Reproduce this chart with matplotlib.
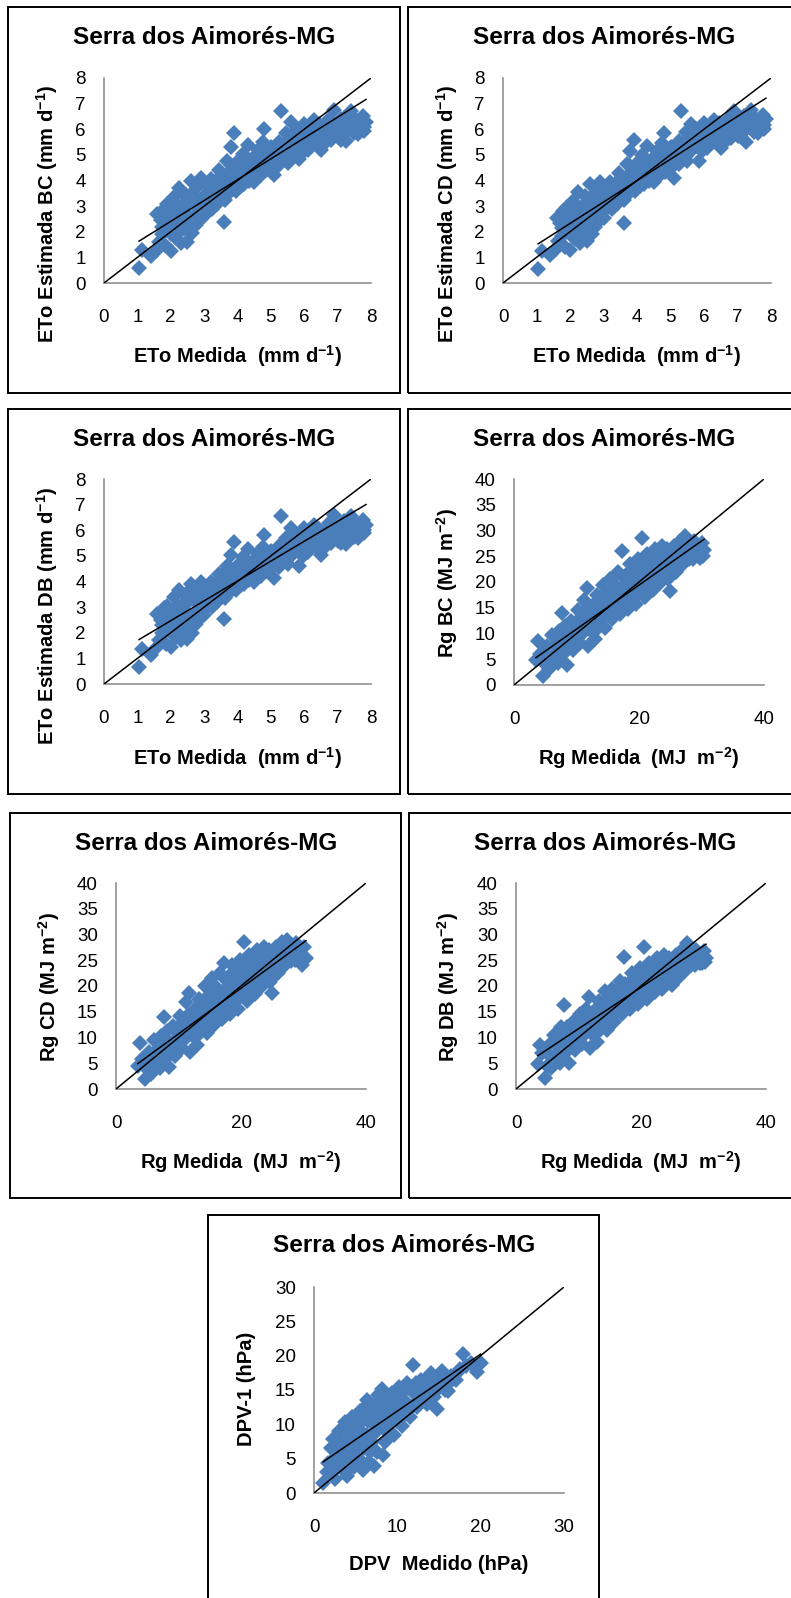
import matplotlib
matplotlib.use('Agg')
import numpy as np
import matplotlib.pyplot as plt
from matplotlib.patches import Rectangle

# --- Data ---
eto_medida = [1.05, 1.15, 1.40, 1.55, 1.60, 1.65, 1.70, 1.75, 1.80, 1.85, 1.90, 1.95, 2.00, 2.05, 2.10,
              2.15, 2.20, 2.25, 2.30, 2.35, 2.40, 2.45, 2.50, 2.55, 2.60, 2.65, 2.70, 2.75, 2.80, 2.85,
              2.90, 2.95, 3.00, 3.05, 3.10, 3.15, 3.20, 3.30, 3.35, 3.40, 3.45, 3.50, 3.55, 3.60, 3.62,
              3.70, 3.75, 3.80, 3.85, 3.90, 3.95, 4.00, 4.05, 4.15, 4.20, 4.25, 4.30, 4.40, 4.45, 4.50,
              4.60, 4.65, 4.75, 4.80, 4.85, 4.90, 5.00, 5.10, 5.15, 5.25, 5.30, 5.35, 5.45, 5.50, 5.60,
              5.65, 5.75, 5.85, 5.90, 6.00, 6.10, 6.20, 6.30, 6.40, 6.50, 6.55, 6.65, 6.75, 6.85, 6.90,
              7.00, 7.10, 7.20, 7.25, 7.35, 7.40, 7.50, 7.55, 7.65, 7.75, 7.85, 7.80,
              1.75, 1.90, 2.00, 2.10, 2.20, 2.30, 2.35, 2.45, 2.50, 2.60, 2.65, 2.75, 2.80, 2.90, 3.00,
              3.05, 3.15, 3.20, 3.25, 3.30, 3.40, 3.45, 3.50, 3.55, 3.65, 3.70, 3.75, 3.80, 3.85, 3.95,
              4.00, 4.05, 4.10, 4.20, 4.25, 4.35, 4.40, 4.50, 4.55, 4.60, 4.70, 4.75, 4.85, 4.90, 5.00,
              5.05, 5.20, 5.25, 5.40, 5.45, 5.55, 5.60, 5.70, 5.80, 5.90, 5.95, 6.05, 6.15, 6.25, 6.35,
              6.45, 6.50, 6.60, 6.70, 6.80, 6.90, 7.00, 7.10, 7.20, 7.30, 7.45, 7.60, 7.70, 7.80]
eto_bc = [0.60, 1.30, 1.05, 1.25, 2.70, 1.60, 2.45, 1.90, 2.90, 1.45, 3.10, 2.20, 1.25, 2.75, 3.35,
          1.75, 2.40, 3.70, 1.55, 3.05, 2.10, 3.45, 1.60, 2.60, 4.00, 1.95, 3.30, 2.25, 3.75, 2.85,
          4.10, 3.20, 2.60, 3.85, 3.00, 3.55, 4.05, 3.35, 3.90, 3.10, 4.40, 3.65, 4.20, 2.40, 3.25,
          4.75, 3.90, 5.30, 4.40, 5.85, 3.60, 4.75, 4.15, 5.05, 3.85, 4.50, 5.40, 4.20, 4.85, 3.95,
          5.20, 4.50, 5.50, 6.00, 4.40, 4.95, 5.30, 4.20, 4.75, 5.50, 6.70, 5.00, 5.85, 4.70, 6.30,
          5.35, 5.95, 4.85, 5.50, 6.20, 5.20, 5.75, 6.35, 5.40, 5.20, 6.00, 5.50, 6.40, 5.80, 6.75,
          6.15, 5.60, 6.45, 5.55, 6.05, 6.70, 5.85, 6.35, 6.00, 6.50, 6.30, 5.95,
          2.20, 2.50, 1.90, 2.60, 3.00, 2.10, 2.70, 2.30, 3.10, 2.20, 3.50, 2.70, 3.10, 2.50, 3.40,
          2.90, 3.20, 3.70, 2.90, 3.10, 3.90, 3.40, 4.00, 3.50, 3.80, 4.20, 3.50, 4.60, 3.90, 4.30,
          4.00, 4.60, 3.80, 4.30, 4.90, 4.00, 4.60, 4.30, 5.00, 4.70, 4.20, 4.80, 5.20, 4.60, 4.50,
          5.00, 5.20, 4.60, 5.30, 4.90, 5.60, 5.10, 5.70, 5.30, 6.00, 5.10, 5.80, 5.40, 6.00, 5.60,
          6.20, 5.60, 5.80, 6.10, 5.60, 6.00, 5.70, 6.40, 5.90, 6.20, 6.30, 5.80, 6.20, 6.10]
eto_cd = [0.55, 1.25, 1.10, 1.30, 2.55, 1.65, 2.35, 1.85, 2.80, 1.40, 2.95, 2.15, 1.30, 2.65, 3.20,
          1.70, 2.35, 3.55, 1.55, 2.95, 2.00, 3.40, 1.65, 2.55, 3.85, 1.90, 3.20, 2.20, 3.65, 2.80,
          3.95, 3.15, 2.55, 3.75, 2.95, 3.50, 3.95, 3.30, 3.85, 3.10, 4.30, 3.60, 4.15, 2.35, 3.25,
          4.65, 3.85, 5.15, 4.35, 5.60, 3.60, 4.70, 4.10, 5.00, 3.85, 4.45, 5.35, 4.20, 4.80, 3.95,
          5.15, 4.50, 5.45, 5.85, 4.35, 4.90, 5.30, 4.10, 4.70, 5.55, 6.70, 5.00, 5.90, 4.75, 6.20,
          5.40, 6.00, 4.75, 5.55, 6.25, 5.25, 5.80, 6.35, 5.45, 5.25, 6.05, 5.55, 6.45, 5.85, 6.70,
          6.20, 5.70, 6.50, 5.50, 6.10, 6.75, 5.90, 6.40, 6.05, 6.55, 6.40, 6.00,
          2.15, 2.40, 1.90, 2.50, 2.90, 2.05, 2.60, 2.25, 3.00, 2.20, 3.40, 2.65, 3.05, 2.45, 3.35,
          2.85, 3.15, 3.60, 2.90, 3.05, 3.85, 3.35, 3.95, 3.50, 3.75, 4.15, 3.50, 4.55, 3.85, 4.25,
          4.00, 4.55, 3.80, 4.30, 4.85, 4.00, 4.60, 4.30, 4.95, 4.70, 4.20, 4.80, 5.20, 4.60, 4.50,
          5.00, 5.25, 4.65, 5.35, 4.95, 5.65, 5.15, 5.75, 5.35, 6.05, 5.15, 5.85, 5.45, 6.05, 5.65,
          6.25, 5.65, 5.85, 6.15, 5.65, 6.05, 5.75, 6.45, 5.95, 6.25, 6.35, 5.85, 6.25, 6.15]
eto_db = [0.65, 1.35, 1.15, 1.40, 2.75, 1.70, 2.50, 2.00, 2.95, 1.55, 3.05, 2.30, 1.45, 2.80, 3.40,
          1.85, 2.45, 3.65, 1.70, 3.10, 2.15, 3.50, 1.75, 2.65, 3.90, 2.00, 3.35, 2.35, 3.70, 2.90,
          4.00, 3.25, 2.70, 3.80, 3.10, 3.55, 4.00, 3.40, 3.90, 3.20, 4.30, 3.65, 4.20, 2.55, 3.35,
          4.60, 3.90, 5.05, 4.40, 5.55, 3.65, 4.65, 4.15, 4.95, 3.90, 4.50, 5.25, 4.25, 4.80, 4.00,
          5.10, 4.50, 5.35, 5.80, 4.40, 4.90, 5.20, 4.15, 4.70, 5.40, 6.55, 4.95, 5.70, 4.70, 6.10,
          5.30, 5.85, 4.60, 5.40, 6.10, 5.15, 5.65, 6.20, 5.30, 5.05, 5.90, 5.40, 6.30, 5.70, 6.60,
          6.05, 5.50, 6.35, 5.45, 5.95, 6.55, 5.75, 6.25, 5.90, 6.40, 6.20, 5.90,
          2.30, 2.60, 2.00, 2.70, 3.05, 2.20, 2.75, 2.40, 3.15, 2.30, 3.50, 2.80, 3.15, 2.60, 3.45,
          3.00, 3.25, 3.70, 3.00, 3.15, 3.90, 3.45, 4.00, 3.55, 3.80, 4.20, 3.55, 4.50, 3.90, 4.30,
          4.00, 4.55, 3.85, 4.30, 4.80, 4.05, 4.55, 4.30, 4.90, 4.65, 4.20, 4.75, 5.10, 4.60, 4.50,
          4.95, 5.10, 4.55, 5.20, 4.85, 5.50, 5.00, 5.60, 5.20, 5.85, 5.00, 5.70, 5.30, 5.90, 5.50,
          6.05, 5.50, 5.70, 6.00, 5.50, 5.90, 5.60, 6.25, 5.80, 6.10, 6.15, 5.70, 6.10, 6.00]

rg_medida = [3.5, 3.8, 4.2, 4.7, 5.0, 5.3, 5.6, 6.0, 6.2, 6.6, 7.0, 7.2, 7.6, 7.9, 8.2, 8.5, 8.8,
             9.1, 9.5, 9.8, 10.2, 10.5, 10.8, 11.2, 11.6, 11.8, 12.0, 12.3, 12.7, 13.0, 13.3, 13.6,
             14.0, 14.3, 14.5, 14.8, 15.1, 15.4, 15.7, 16.0, 16.3, 16.6, 16.9, 17.2, 17.4, 17.7,
             18.0, 18.3, 18.6, 18.9, 19.2, 19.5, 19.8, 20.1, 20.4, 20.7, 21.0, 21.3, 21.6, 21.9,
             22.2, 22.5, 22.8, 23.1, 23.4, 23.7, 24.0, 24.3, 24.6, 25.0, 25.3, 25.6, 25.9, 26.2,
             26.6, 27.0, 27.4, 27.8, 28.2, 28.6, 29.0, 29.4, 29.8, 30.0, 30.4,
             5.5, 6.5, 6.8, 7.5, 8.0, 8.6, 9.3, 9.6, 10.0, 10.3, 10.6, 11.0, 11.4, 11.5, 12.1, 12.4,
             12.8, 13.1, 13.4, 13.8, 14.1, 14.6, 14.9, 15.2, 15.5, 15.9, 16.2, 16.5, 16.8, 17.1,
             17.5, 17.8, 18.2, 18.5, 18.8, 19.1, 19.4, 19.7, 20.0, 20.3, 20.6, 21.0, 21.2, 21.5,
             21.8, 22.1, 22.4, 22.7, 23.0, 23.3, 23.6, 23.9, 24.2, 24.5, 24.8, 25.1, 25.4, 25.8,
             26.0, 26.4, 26.8, 27.2, 27.6, 28.0, 28.4, 28.8, 29.2, 29.6, 30.2]
rg_bc = [4.8, 8.6, 6.0, 1.8, 4.0, 7.5, 3.2, 9.8, 5.5, 7.8, 4.2, 10.5, 14.0, 6.0, 11.5, 3.8, 8.5,
         12.5, 6.8, 10.2, 14.5, 8.2, 12.0, 16.5, 18.9, 7.5, 13.8, 10.5, 15.5, 9.0, 17.5, 12.2,
         15.0, 19.5, 11.0, 16.8, 13.5, 20.5, 12.8, 18.0, 15.0, 22.0, 13.8, 26.0, 19.0, 16.2,
         21.5, 14.8, 23.5, 17.5, 20.0, 15.8, 24.5, 18.5, 28.5, 21.8, 17.0, 25.5, 19.5, 23.0,
         18.5, 26.5, 21.0, 24.5, 19.8, 27.0, 22.5, 25.5, 20.5, 18.3, 24.0, 27.0, 22.0, 25.5,
         28.0, 23.5, 28.9, 25.5, 27.5, 24.5, 27.0, 25.0, 24.7, 27.5, 26.2,
         5.5, 6.0, 9.0, 8.0, 10.0, 7.0, 9.5, 11.5, 8.5, 11.0, 13.0, 10.0, 12.5, 14.5, 11.5, 15.0,
         12.5, 14.0, 11.0, 16.0, 13.0, 14.8, 18.0, 16.0, 14.0, 17.0, 19.5, 16.5, 18.5, 15.0,
         21.0, 18.0, 19.5, 16.5, 21.5, 18.5, 22.5, 17.5, 20.5, 23.0, 19.0, 22.0, 20.0, 24.0,
         21.0, 25.0, 22.0, 24.0, 20.5, 23.0, 25.5, 21.5, 24.0, 26.5, 23.0, 21.5, 25.5, 24.0,
         27.0, 23.5, 26.0, 25.0, 27.0, 24.5, 26.5, 28.0, 26.0, 27.0, 25.0]
rg_cd = [4.5, 8.9, 5.8, 1.9, 3.8, 7.2, 3.0, 9.5, 5.2, 7.5, 4.0, 10.2, 14.0, 5.8, 11.2, 4.2, 8.2,
         12.3, 6.5, 10.0, 14.2, 8.0, 11.8, 16.8, 18.6, 7.2, 13.5, 10.2, 15.5, 8.6, 17.5, 12.0,
         15.0, 20.0, 10.8, 17.0, 13.3, 21.5, 12.5, 18.5, 15.0, 22.5, 13.5, 24.5, 19.5, 16.0,
         22.0, 14.5, 24.0, 17.5, 20.5, 15.5, 25.0, 18.5, 28.5, 22.0, 17.0, 26.0, 19.5, 23.5,
         18.5, 27.0, 21.5, 25.0, 20.0, 27.5, 23.0, 26.0, 20.8, 18.6, 24.5, 27.5, 22.5, 26.0,
         28.5, 24.0, 28.9, 26.0, 28.0, 25.0, 27.5, 25.0, 24.1, 27.5, 25.5,
         5.3, 5.8, 8.8, 7.8, 9.8, 6.8, 9.3, 11.3, 8.3, 10.8, 12.8, 9.8, 12.4, 14.4, 11.4, 15.0,
         12.4, 14.0, 10.9, 16.0, 13.0, 14.9, 18.2, 16.2, 14.0, 17.2, 19.7, 16.6, 18.7, 15.0,
         21.3, 18.2, 19.8, 16.6, 21.8, 18.7, 22.8, 17.6, 20.8, 23.3, 19.2, 22.3, 20.2, 24.3,
         21.3, 25.4, 22.3, 24.4, 20.8, 23.4, 25.9, 21.8, 24.4, 26.9, 23.4, 21.8, 25.9, 24.4,
         27.4, 23.9, 26.4, 25.4, 27.4, 24.9, 26.9, 28.3, 26.4, 27.3, 25.3]
rg_db = [4.8, 8.6, 7.0, 2.2, 4.5, 8.5, 4.0, 10.5, 6.5, 8.8, 5.0, 12.0, 16.3, 7.0, 12.0, 5.0, 9.0,
         13.0, 7.5, 10.5, 14.5, 8.8, 12.5, 15.5, 17.8, 8.0, 13.8, 10.5, 15.2, 9.2, 17.0, 12.5,
         15.0, 19.0, 11.5, 16.5, 13.8, 19.5, 13.0, 17.5, 15.2, 21.0, 14.5, 25.7, 18.5, 16.5,
         20.5, 15.5, 22.5, 17.5, 19.5, 16.5, 23.5, 18.5, 27.6, 21.0, 17.5, 24.5, 19.5, 22.0,
         18.8, 25.5, 20.5, 23.5, 19.5, 26.0, 21.5, 24.5, 20.5, 20.2, 23.0, 26.0, 21.5, 24.5,
         27.0, 23.0, 28.3, 25.0, 26.5, 24.0, 26.5, 24.5, 24.5, 26.8, 25.5,
         6.5, 7.0, 10.0, 9.0, 11.0, 8.0, 10.3, 12.2, 9.3, 11.6, 13.5, 10.6, 12.9, 14.8, 11.9, 15.2,
         12.9, 14.2, 11.5, 16.0, 13.3, 14.8, 17.6, 15.9, 14.2, 16.8, 19.0, 16.4, 18.1, 15.2,
         20.4, 17.8, 19.1, 16.6, 20.8, 18.3, 21.8, 17.6, 20.0, 22.2, 19.0, 21.3, 19.8, 23.1,
         20.6, 24.0, 21.5, 23.2, 20.2, 22.3, 24.5, 21.2, 23.2, 25.4, 22.4, 21.2, 24.5, 23.3,
         26.0, 23.0, 25.2, 24.4, 26.0, 24.0, 25.6, 27.0, 25.3, 26.2, 24.6]

dpv_medido = [1.1, 1.7, 2.0, 2.3, 2.5, 2.8, 3.0, 3.3, 3.5, 3.7, 4.0, 4.1, 4.3, 4.6, 4.8, 5.0,
              5.2, 5.5, 5.7, 5.9, 6.0, 6.3, 6.5, 6.7, 7.0, 7.2, 7.4, 7.7, 8.0, 8.1, 8.3, 8.5,
              8.8, 9.0, 9.3, 9.6, 9.9, 10.2, 10.5, 10.8, 11.1, 11.5, 11.9, 12.0, 12.4, 12.8,
              13.2, 13.6, 14.0, 14.4, 14.7, 15.0, 15.3, 15.7, 16.1, 16.4, 17.0, 17.5, 17.9,
              19.5, 20.0, 6.2, 3.8, 7.5,
              1.5, 2.0, 2.2, 2.6, 2.7, 3.0, 3.2, 3.4, 3.6, 3.9, 4.0, 4.2, 4.4, 4.5, 4.7, 4.9,
              5.1, 5.3, 5.4, 5.6, 5.8, 6.0, 6.1, 6.4, 6.6, 6.8, 6.9, 7.1, 7.3, 7.5, 7.6, 7.9,
              8.2, 8.4, 8.6, 8.7, 9.0, 9.2, 9.4, 9.7, 10.0, 10.3, 10.6, 10.9, 11.2, 11.6, 11.8,
              12.2, 12.5, 12.9, 13.3, 13.5, 13.9, 14.2, 14.6, 15.0, 15.4, 15.8, 16.2, 16.8,
              17.2, 18.2, 18.8, 19.3]
dpv_1 = [1.4, 4.3, 6.5, 7.9, 2.1, 5.5, 9.0, 3.5, 7.0, 10.3, 2.5, 5.0, 8.5, 11.0, 3.8, 6.5,
         9.5, 12.0, 4.5, 3.3, 8.0, 13.5, 10.5, 6.0, 12.5, 4.0, 9.0, 14.2, 11.0, 15.2, 5.5, 7.5,
         13.0, 10.0, 14.5, 8.5, 12.0, 15.5, 9.8, 13.5, 16.0, 11.0, 18.6, 14.5, 12.5, 16.5,
         13.5, 15.5, 17.5, 14.0, 12.3, 16.5, 17.8, 15.0, 14.8, 17.0, 16.5, 18.0, 20.3,
         17.6, 18.9, 11.5, 6.0, 11.8,
         3.0, 4.5, 3.0, 6.5, 4.0, 7.5, 5.5, 9.0, 4.5, 7.5, 9.5, 3.5, 6.5, 10.0, 5.0, 8.0,
         11.0, 7.0, 5.0, 9.0, 10.5, 6.5, 12.5, 8.5, 4.5, 11.0, 7.5, 10.0, 13.0, 6.0, 9.0, 12.0,
         10.0, 13.5, 9.0, 11.5, 12.5, 8.5, 11.0, 13.5, 10.5, 12.5, 14.5, 11.5, 13.0, 15.0, 12.5,
         16.0, 13.5, 15.0, 16.5, 13.0, 15.0, 16.5, 14.8, 15.5, 16.0, 17.0, 16.0, 17.0,
         17.5, 18.5, 19.0, 18.3]

# trend lines (slope, intercept)
trend = {'eto_bc': (0.813, 0.78), 'eto_cd': (0.836, 0.65), 'eto_db': (0.775, 0.92),
         'rg_bc': (0.855, 2.30), 'rg_cd': (0.887, 1.83), 'rg_db': (0.805, 3.64),
         'dpv': (0.83, 3.63)}

eto_ticks = [0, 1, 2, 3, 4, 5, 6, 7, 8]
rg_xticks = [0, 20, 40]
rg_yticks = [0, 5, 10, 15, 20, 25, 30, 35, 40]
dpv_xticks = [0, 10, 20, 30]
dpv_yticks = [0, 5, 10, 15, 20, 25, 30]

TITLE = 'Serra dos Aimorés-MG'
ETO_X = r'ETo Medida  (mm d$^{\mathbf{-1}}$)'
RG_X = r'Rg Medida  (MJ  m$^{\mathbf{-2}}$)'

# --- Style ---
W, H = 791, 1598
BLUE = '#4A7EBB'
plt.rcParams['font.family'] = ['Liberation Sans', 'DejaVu Sans']
plt.rcParams['mathtext.fontset'] = 'custom'
plt.rcParams['mathtext.rm'] = 'Liberation Sans'
plt.rcParams['mathtext.bf'] = 'Liberation Sans:bold'

fig = plt.figure(figsize=(W / 100, H / 100), dpi=100)


def fx(px):
    return px / W


def fy(py):
    return 1 - py / H


# box (left, top, width, height), plot (x0, ytop, x1, ybottom) in pixels
panels = [
    dict(box=(8, 7, 392, 386), plot=(104, 78, 371, 283), x=eto_medida, y=eto_bc, tr='eto_bc',
         lim=8, xt=eto_ticks, yt=eto_ticks, xl=ETO_X,
         yl=r'ETo Estimada BC (mm d$^{\mathbf{-1}}$)', yl_dy=207),
    dict(box=(408, 7, 392, 386), plot=(503, 78, 771, 283), x=eto_medida, y=eto_cd, tr='eto_cd',
         lim=8, xt=eto_ticks, yt=eto_ticks, xl=ETO_X,
         yl=r'ETo Estimada CD (mm d$^{\mathbf{-1}}$)', yl_dy=207),
    dict(box=(8, 409, 392, 385), plot=(104, 479, 371, 684), x=eto_medida, y=eto_db, tr='eto_db',
         lim=8, xt=eto_ticks, yt=eto_ticks, xl=ETO_X,
         yl=r'ETo Estimada DB (mm d$^{\mathbf{-1}}$)', yl_dy=207),
    dict(box=(408, 409, 392, 385), plot=(514, 479, 764, 685), x=rg_medida, y=rg_bc, tr='rg_bc',
         lim=40, xt=rg_xticks, yt=rg_yticks, xl=RG_X,
         yl=r'Rg BC (MJ m$^{\mathbf{-2}}$)', yl_dy=174),
    dict(box=(10, 813, 391, 385), plot=(116, 883, 366, 1089), x=rg_medida, y=rg_cd, tr='rg_cd',
         lim=40, xt=rg_xticks, yt=rg_yticks, xl=RG_X,
         yl=r'Rg CD (MJ m$^{\mathbf{-2}}$)', yl_dy=174),
    dict(box=(409, 813, 392, 385), plot=(516, 883, 766, 1089), x=rg_medida, y=rg_db, tr='rg_db',
         lim=40, xt=rg_xticks, yt=rg_yticks, xl=RG_X,
         yl=r'Rg DB (MJ m$^{\mathbf{-2}}$)', yl_dy=174),
    dict(box=(208, 1215, 391, 392), plot=(314, 1287, 564, 1493), x=dpv_medido, y=dpv_1, tr='dpv',
         lim=30, xt=dpv_xticks, yt=dpv_yticks, xl='DPV  Medido (hPa)',
         yl='DPV-1 (hPa)', yl_dy=174),
]

for p in panels:
    bl, bt, bw, bh = p['box']
    fig.patches.append(Rectangle((fx(bl), fy(bt + bh)), bw / W, bh / H, transform=fig.transFigure,
                                 fill=False, edgecolor='black', lw=1.4, zorder=0))
    x0, yt, x1, yb = p['plot']
    ax = fig.add_axes([fx(x0), fy(yb), (x1 - x0) / W, (yb - yt) / H])
    ax.set_facecolor('none')

    ax.plot(p['x'], p['y'], 'D', ms=8.2, color=BLUE, mec=BLUE, mew=0, zorder=2, clip_on=False)
    ax.axline((0, 0), slope=1, color='black', lw=1.1, zorder=3)
    slope, icpt = trend[p['tr']]
    xs = np.array([min(p['x']), max(p['x'])])
    ax.plot(xs, slope * xs + icpt, color='black', lw=1.1, zorder=3)

    ax.set_xlim(0, p['lim'])
    ax.set_ylim(0, p['lim'])
    ax.set_xticks(p['xt'])
    ax.set_yticks(p['yt'])
    ax.tick_params(axis='x', length=0, pad=19, labelsize=13.5)
    ax.tick_params(axis='y', length=0, pad=13, labelsize=13.5)
    for side in ['top', 'right']:
        ax.spines[side].set_visible(False)
    for side in ['left', 'bottom']:
        ax.spines[side].set_color('#868686')
        ax.spines[side].set_linewidth(1.1)

    fig.text(fx(bl + 196), fy(bt + 31), TITLE, ha='center', va='center',
             fontsize=17.5, fontweight='bold')
    fig.text(fx((x0 + x1) / 2), fy(bt + 349), p['xl'], ha='center', va='center',
             fontsize=14.5, fontweight='bold')
    fig.text(fx(bl + 39), fy(bt + p['yl_dy']), p['yl'], ha='center', va='center',
             rotation=90, fontsize=14.5, fontweight='bold')

fig.savefig('out.png', dpi=100)
